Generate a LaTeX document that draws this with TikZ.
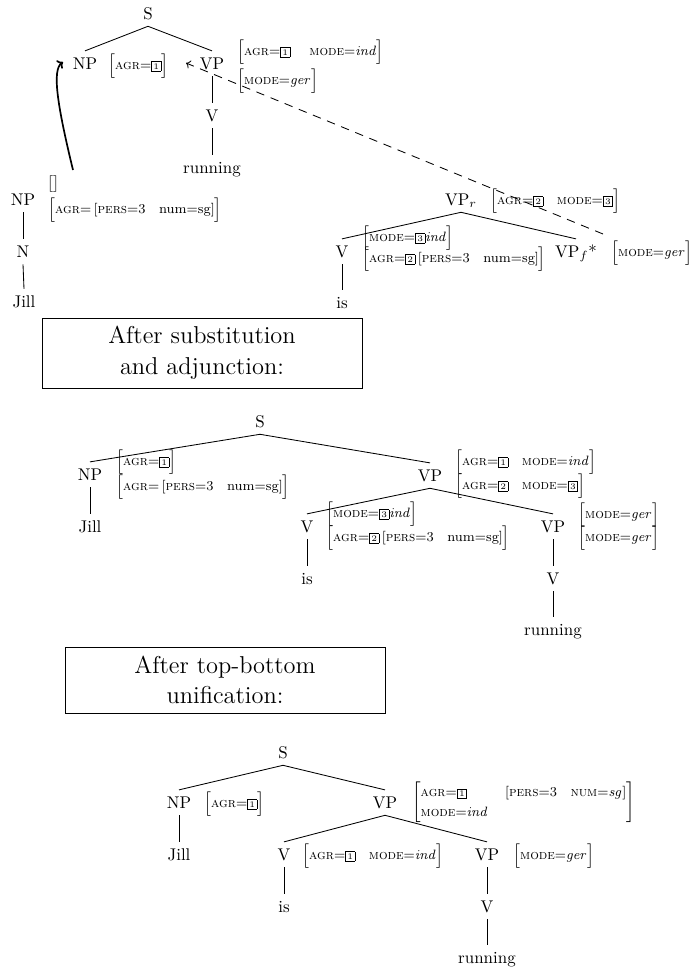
\documentclass[tikz,border=0pt]{standalone}
\usepackage{amsmath}
\usetikzlibrary{arrows.meta}

% feature-structure helpers
\newcommand{\fsc}[1]{\textsc{#1}}
\newcommand{\boxnum}[1]{{\setlength{\fboxsep}{0.9pt}\fbox{\tiny #1}}}
\newcommand{\fsrule}{\rule[-3.4pt]{0pt}{10.8pt}}
\newcommand{\fstruct}[1]{{\footnotesize$\left[\fsrule #1\right]$}}

\tikzset{
  tn/.style={anchor=base, inner sep=3.6pt, text height=6.9pt, text depth=0.5pt},
  fs/.style={anchor=base west, inner sep=0pt},
  edge/.style={line width=0.5pt},
  titlebox/.style={draw, line width=0.5pt, align=center, font=\Large, inner sep=0pt,
                   minimum width=188.8pt},
}

\begin{document}
\begin{tikzpicture}[x=0.59pt, y=-0.59pt]
\useasboundingbox (0,0) rectangle (691,971);

% ---------- elementary tree for "running" ----------
\node[tn] (s1) at (148,19) {S};
\node[tn] (np1) at (85,69) {NP};
\node[tn] (vp1) at (212,69) {VP};
\node[tn] (v1) at (212,121) {V};
\node[tn] (run1) at (212,173) {running};
\node[fs] (np1f) at (108,69) {\fstruct{\fsc{agr}{=}\boxnum{1}}};
\node[fs] (vp1t) at (237,55) {\fstruct{\fsc{agr}{=}\boxnum{1}\hspace{1.4em}\fsc{mode}{=}\mathit{ind}}};
\node[fs] (vp1b) at (237,84) {\fstruct{\fsc{mode}{=}\mathit{ger}}};
\draw[edge] (s1.south) -- (np1.north);
\draw[edge] (s1.south) -- (vp1.north);
\draw[edge] (vp1.south) -- (v1.north);
\draw[edge] (v1.south) -- (run1.north);

% ---------- initial tree for "Jill" ----------
\node[tn] (np2) at (23,205) {NP};
\node[tn] (n2) at (23,257) {N};
\node[tn] (jill2) at (24,307) {Jill};
\node[fs] (np2t) at (47,187) {\footnotesize$\left[\rule[-2.5pt]{0pt}{9pt}\right]$};
\node[fs] (np2b) at (48,213) {\fstruct{\fsc{agr}{=}\left[\fsc{pers}{=}3\quad\textrm{num}{=}\textrm{sg}\right]}};
\draw[edge] (np2.south) -- (n2.north);
\draw[edge] (n2.south) -- (jill2.north);

% ---------- auxiliary tree for "is" ----------
\node[tn] (vpr) at (461,205) {VP$_r$};
\node[tn] (v3) at (342,257) {V};
\node[tn] (is3) at (342,308) {is};
\node[tn] (vpf) at (576,257) {VP$_f$*};
\node[fs] (vprf) at (490,204) {\fstruct{\fsc{agr}{=}\boxnum{2}\quad\fsc{mode}{=}\boxnum{3}}};
\node[fs] (v3t) at (362,241) {\fstruct{\fsc{mode}{=}\boxnum{3}\mathit{ind}}};
\node[fs] (v3b) at (362,262) {\fstruct{\fsc{agr}{=}\boxnum{2}\left[\fsc{pers}{=}3\quad\textrm{num}{=}\textrm{sg}\right]}};
\node[fs] (vpff) at (611,256) {\fstruct{\fsc{mode}{=}\mathit{ger}}};
\draw[edge] (vpr.south) -- (v3.north);
\draw[edge] (vpr.south) -- (vpf.north);
\draw[edge] (v3.south) -- (is3.north);

% substitution and adjunction arrows
\coordinate (substfrom) at (73,170);
\coordinate (substto) at (63,62);
\draw[line width=1pt, -{To[length=3pt,width=6pt]}] (substfrom) .. controls (57,104) and (52,70) .. (substto);
\coordinate (adjfrom) at (603,234);
\coordinate (adjto) at (186,63);
\draw[edge, dash pattern=on 5pt off 4pt, -{To[length=2.5pt,width=5pt]}] (adjfrom) -- (adjto);

\node[titlebox, minimum height=41.3pt] (box1) at (202,353) {After substitution\\and adjunction:};

% ---------- derived tree ----------
\node[tn] (s4) at (260,427) {S};
\node[tn] (np4) at (90,480) {NP};
\node[tn] (jill4) at (90,532) {Jill};
\node[tn] (vp4) at (430,481) {VP};
\node[tn] (v4) at (307,532) {V};
\node[tn] (is4) at (307,584) {is};
\node[tn] (vp5) at (553,532) {VP};
\node[tn] (v5) at (553,584) {V};
\node[tn] (run5) at (553,635) {running};
\node[fs] (np4t) at (116,465) {\fstruct{\fsc{agr}{=}\boxnum{1}}};
\node[fs] (np4b) at (116,490) {\fstruct{\fsc{agr}{=}\left[\fsc{pers}{=}3\quad\textrm{num}{=}\textrm{sg}\right]}};
\node[fs] (vp4t) at (455,465) {\fstruct{\fsc{agr}{=}\boxnum{1}\quad\fsc{mode}{=}\mathit{ind}}};
\node[fs] (vp4b) at (455,489) {\fstruct{\fsc{agr}{=}\boxnum{2}\quad\fsc{mode}{=}\boxnum{3}}};
\node[fs] (v4t) at (326,517) {\fstruct{\fsc{mode}{=}\boxnum{3}\mathit{ind}}};
\node[fs] (v4b) at (326,541) {\fstruct{\fsc{agr}{=}\boxnum{2}\left[\fsc{pers}{=}3\quad\textrm{num}{=}\textrm{sg}\right]}};
\node[fs] (vp5t) at (578,518) {\fstruct{\fsc{mode}{=}\mathit{ger}}};
\node[fs] (vp5b) at (578,541) {\fstruct{\fsc{mode}{=}\mathit{ger}}};
\draw[edge] (s4.south) -- (np4.north);
\draw[edge] (s4.south) -- (vp4.north);
\draw[edge] (np4.south) -- (jill4.north);
\draw[edge] (vp4.south) -- (v4.north);
\draw[edge] (vp4.south) -- (vp5.north);
\draw[edge] (v4.south) -- (is4.north);
\draw[edge] (vp5.south) -- (v5.north);
\draw[edge] (v5.south) -- (run5.north);

\node[titlebox, minimum height=39pt] (box2) at (225,680) {After top-bottom\\unification:};

% ---------- unified tree ----------
\node[tn] (s6) at (283,758) {S};
\node[tn] (np6) at (179,808) {NP};
\node[tn] (jill6) at (179,860) {Jill};
\node[tn] (vp6) at (385,808) {VP};
\node[tn] (v6) at (284,860) {V};
\node[tn] (is6) at (284,912) {is};
\node[tn] (vp7) at (487,860) {VP};
\node[tn] (v7) at (487,912) {V};
\node[tn] (run7) at (487,963) {running};
\node[fs] (np6f) at (204,807) {\fstruct{\fsc{agr}{=}\boxnum{1}}};
\node[anchor=west, inner sep=0pt] (vp6f) at (412,802.5) {\footnotesize\renewcommand{\arraystretch}{1.25}$\left[\begin{array}{@{}l@{\hspace{10pt}}l@{}}
  \fsc{agr}{=}\boxnum{1} & \left[\fsc{pers}{=}3\quad\fsc{num}{=}\mathit{sg}\right]\\
  \fsc{mode}{=}\mathit{ind} &
\end{array}\right]$};
\node[fs] (v6f) at (302,859) {\fstruct{\fsc{agr}{=}\boxnum{1}\quad\fsc{mode}{=}\mathit{ind}}};
\node[fs] (vp7f) at (513,859) {\fstruct{\fsc{mode}{=}\mathit{ger}}};
\draw[edge] (s6.south) -- (np6.north);
\draw[edge] (s6.south) -- (vp6.north);
\draw[edge] (np6.south) -- (jill6.north);
\draw[edge] (vp6.south) -- (v6.north);
\draw[edge] (vp6.south) -- (vp7.north);
\draw[edge] (v6.south) -- (is6.north);
\draw[edge] (vp7.south) -- (v7.north);
\draw[edge] (v7.south) -- (run7.north);
\end{tikzpicture}
\end{document}
